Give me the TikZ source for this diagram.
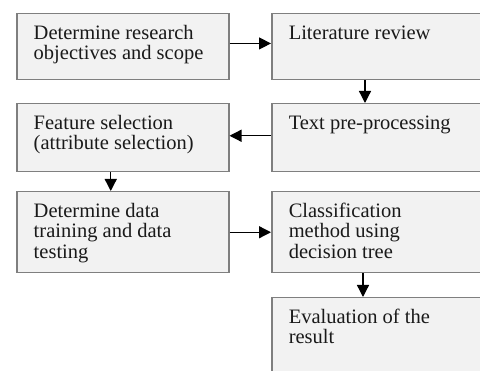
\documentclass[tikz,border=0pt]{standalone}
\usepackage{fontspec}
\setmainfont{Liberation Serif}
\usetikzlibrary{arrows.meta}
\definecolor{boxfill}{HTML}{F2F2F2}
\definecolor{boxline}{HTML}{7F7F7F}
\definecolor{txtcol}{HTML}{1A1A1A}
\newcommand{\boxtxt}[3]{\parbox[c][#1][t]{#2}{\raggedright\strut #3}}
\tikzset{
  stepbox/.style={draw=boxline, fill=boxfill, line width=1.5pt, anchor=north west,
    inner xsep=17pt, inner ysep=11pt, text=txtcol,
    font=\fontsize{20.5}{20.5}\selectfont},
  arr/.style={draw=black, line width=1.3pt, -{Triangle[length=12pt,width=12pt]}}
}
\begin{document}
\begin{tikzpicture}[x=1pt, y=-1pt]
\useasboundingbox (0,0) rectangle (480,371);
\fill[white] (0,0) rectangle (480,371);
\clip (0,0) rectangle (480,371);
\node[stepbox] (A) at (16,13)  {\boxtxt{44pt}{178pt}{Determine research\\objectives and scope}};
\node[stepbox] (B) at (271,13) {\boxtxt{44pt}{196pt}{Literature review}};
\node[stepbox] (C) at (271,103) {\boxtxt{46pt}{196pt}{Text pre-processing}};
\node[stepbox] (D) at (16,103) {\boxtxt{46pt}{178pt}{Feature selection\\(attribute selection)}};
\node[stepbox] (E) at (16,191) {\boxtxt{59pt}{178pt}{Determine data\\training and data\\testing}};
\node[stepbox] (F) at (271,191) {\boxtxt{59pt}{196pt}{Classification\\method using\\decision tree}};
\node[stepbox] (G) at (271,297) {\boxtxt{78pt}{196pt}{Evaluation of the\\result}};
\draw[arr] ([yshift=3.3pt]A.east) -- ([yshift=3.3pt]B.west);
\draw[arr] ([xshift=94pt]B.south west) -- ([xshift=94pt]C.north west);
\draw[arr] ([yshift=2pt]C.west) -- ([yshift=2pt]D.east);
\draw[arr] ([xshift=-12pt]D.south) -- ([xshift=-12pt]E.north);
\draw[arr] (E.east) -- (F.west);
\draw[arr] ([xshift=92pt]F.south west) -- ([xshift=92pt]G.north west);
\end{tikzpicture}
\end{document}
